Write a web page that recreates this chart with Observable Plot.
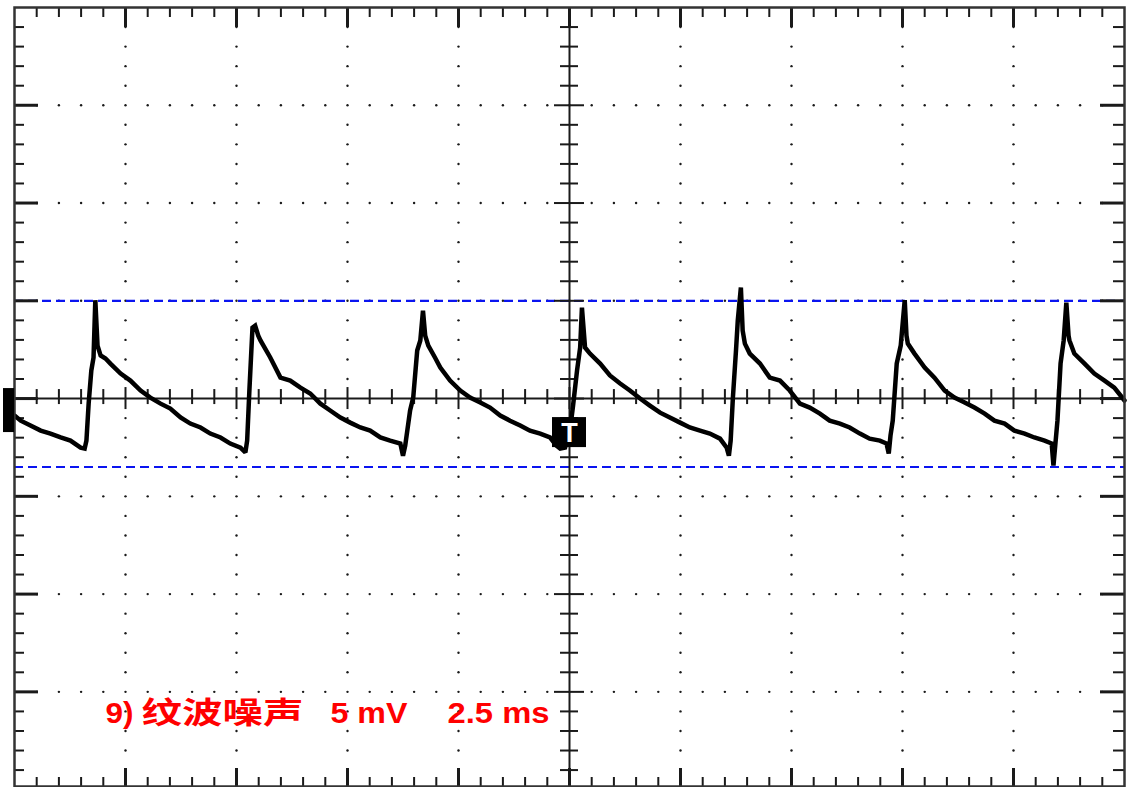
<!DOCTYPE html>
<html>
<head>
<meta charset="utf-8">
<script src="https://cdn.jsdelivr.net/npm/d3@7"></script>
<script src="https://cdn.jsdelivr.net/npm/@observablehq/plot@0.6"></script>
<style>
  html, body { margin: 0; padding: 0; background: #fff; }
  #chart svg { display: block; }
</style>
</head>
<body>
<div id="chart"></div>
<script>
// ---- Data read from the oscilloscope capture (time in ms, voltage in mV) ----
const timeMs = [
  0.00, 0.14, 0.36, 0.59, 0.81, 1.04, 1.26, 1.49, 1.58, 1.62, 1.67, 1.73, 1.78, 1.82, 1.87, 1.94, 2.05, 2.16, 2.39, 2.61,
  2.84, 3.06, 3.29, 3.51, 3.74, 3.96, 4.19, 4.41, 4.64, 4.86, 5.09, 5.20, 5.24, 5.29, 5.36, 5.42, 5.49, 5.54, 5.76, 5.99,
  6.21, 6.44, 6.66, 6.89, 7.11, 7.34, 7.56, 7.79, 8.01, 8.24, 8.46, 8.69, 8.75, 8.80, 8.91, 8.98, 9.07, 9.14, 9.20, 9.25,
  9.32, 9.47, 9.59, 9.81, 10.04, 10.26, 10.49, 10.71, 10.94, 11.16, 11.39, 11.61, 11.84, 12.06, 12.20, 12.29, 12.40, 12.51, 12.58, 12.67,
  12.74, 12.78, 12.85, 12.96, 13.19, 13.41, 13.64, 13.86, 14.09, 14.31, 14.54, 14.76, 14.99, 15.21, 15.44, 15.66, 15.89, 16.04, 16.09, 16.13,
  16.18, 16.25, 16.29, 16.36, 16.40, 16.45, 16.56, 16.79, 17.01, 17.24, 17.46, 17.69, 17.91, 18.14, 18.36, 18.59, 18.81, 19.04, 19.26, 19.49,
  19.64, 19.69, 19.73, 19.78, 19.87, 19.96, 20.05, 20.09, 20.12, 20.27, 20.50, 20.72, 20.95, 21.17, 21.40, 21.62, 21.85, 22.07, 22.30, 22.52,
  22.75, 22.97, 23.20, 23.36, 23.40, 23.45, 23.49, 23.56, 23.63, 23.69, 23.74, 23.76, 23.87, 24.10, 24.32, 24.55, 24.77, 25.00
];
const voltMv = [
  -0.87, -1.13, -1.38, -1.64, -1.79, -1.99, -2.15, -2.51, -2.56, -2.15, -0.26, 1.43, 2.10, 5.03, 2.71, 2.20, 2.05, 1.79, 1.28, 0.92,
  0.41, 0.05, -0.26, -0.51, -0.97, -1.28, -1.48, -1.79, -1.99, -2.30, -2.51, -2.76, -2.15, 0.41, 3.63, 3.73, 3.22, 2.97, 2.10, 1.07,
  0.92, 0.56, 0.26, -0.26, -0.61, -0.97, -1.23, -1.48, -1.64, -1.99, -2.15, -2.30, -2.92, -2.40, -0.61, 0.05, 2.46, 2.97, 4.50, 3.22,
  2.71, 2.10, 1.59, 0.92, 0.41, 0.05, -0.20, -0.46, -0.87, -1.13, -1.38, -1.64, -1.79, -1.99, -2.40, -2.56, -2.51, -1.64, -0.36, 1.43,
  2.61, 4.65, 2.61, 2.30, 1.79, 1.18, 0.77, 0.41, 0.00, -0.36, -0.72, -0.97, -1.23, -1.48, -1.64, -1.79, -2.05, -2.51, -2.92, -2.15,
  0.05, 2.46, 3.99, 5.68, 3.48, 2.81, 2.30, 1.79, 1.07, 0.92, 0.41, -0.26, -0.46, -0.77, -1.13, -1.28, -1.48, -1.79, -2.05, -2.15,
  -2.30, -2.81, -1.89, -1.13, 1.79, 2.71, 5.03, 3.22, 2.81, 2.30, 1.59, 1.07, 0.41, 0.05, -0.20, -0.46, -0.77, -1.13, -1.28, -1.64,
  -1.79, -1.99, -2.15, -2.30, -3.43, -2.15, -1.13, 1.79, 2.97, 4.91, 3.22, 2.97, 2.30, 1.79, 1.28, 0.92, 0.56, -0.10
];
const cursorLevelsMv = [5.0, -3.5];          // blue dashed cursors
const triggerTimeMs = [12.5];                // "T" marker
const triggerLevelMv = [-1.74];
const groundLevelMv = [0];                   // channel ground marker
const labelParts = ["9)", "纹波噪声", "5 mV", "2.5 ms"];
const timePerDivMs = 2.5;
const voltPerDivMv = 5;
const xDivisions = 10;

// ---- Layout ----
const W = 1127, H = 787;
const mL = 14, mR = 3, mT = 7, mB = 1;
const xMax = timePerDivMs * xDivisions;       // 25 ms
const yTop = 20, yBot = -19.84;
const pxPerMs = (W - mL - mR) / xMax;
const pxPerMv = (H - mT - mB) / (yTop - yBot);
const dxMs = px => px / pxPerMs;
const dyMv = px => px / pxPerMv;

const wave = timeMs.map((t, i) => ({t, v: voltMv[i]}));

// graticule subdivisions (5 minor per division)
const xMinor = d3.range(0, 51).map(i => ({x: +(i * timePerDivMs / 5).toFixed(3), major: i % 5 === 0}))
  .filter(d => d.x > 0 && d.x < xMax);
const yMinor = d3.range(-19, 20).map(i => ({y: i, major: i % voltPerDivMv === 0}));
const xMajorLines = d3.range(1, xDivisions).map(i => i * timePerDivMs).filter(x => x !== xMax / 2);
const yMajorLines = [-15, -10, -5, 5, 10, 15];

const gridDots = [];
for (const y of yMajorLines) for (const d of xMinor) gridDots.push({x: d.x, y});
for (const x of xMajorLines) for (const d of yMinor) if (d.y !== 0 && d.y % 5 !== 0) gridDots.push({x, y: d.y});

const ink = "#1a1a1a";
const xc = xMax / 2;
const labelOffsets = [91, 127, 316, 433];
const labelLengths = [28, 162, 77, 102];

const plot = Plot.plot({
  width: W, height: H,
  marginLeft: mL, marginRight: mR, marginTop: mT, marginBottom: mB,
  x: {domain: [0, xMax], axis: null},
  y: {domain: [yBot, yTop], axis: null},
  style: {background: "#fff", overflow: "visible"},
  marks: [
    Plot.dot(gridDots, {x: "x", y: "y", r: 1.2, fill: ink, stroke: null}),
    Plot.ruleY(cursorLevelsMv, {stroke: "#0a14f0", strokeWidth: 2.2, strokeDasharray: "9,5"}),
    // centre cross
    Plot.ruleY([0], {stroke: ink, strokeWidth: 2}),
    Plot.ruleX([xc], {stroke: ink, strokeWidth: 2}),
    Plot.ruleX(xMinor, {x: "x", y1: d => d.major ? dyMv(11) : dyMv(9), y2: d => d.major ? -dyMv(11) : -dyMv(6), stroke: ink, strokeWidth: 2}),
    Plot.ruleY(yMinor, {y: "y", x1: d => xc - dxMs(d.major ? 15 : 9), x2: d => xc + dxMs(d.major ? 15 : 9), stroke: ink, strokeWidth: 2}),
    // border ticks
    Plot.ruleX(xMinor, {x: "x", y1: yTop, y2: d => yTop - dyMv(d.major ? 20 : 10), stroke: ink, strokeWidth: d => d.major ? 3 : 2}),
    Plot.ruleX(xMinor, {x: "x", y1: yBot, y2: d => yBot + dyMv(d.major ? 18 : 9), stroke: ink, strokeWidth: d => d.major ? 3 : 2}),
    Plot.ruleY(yMinor, {y: "y", x1: 0, x2: d => dxMs(d.major ? 24 : 10), stroke: ink, strokeWidth: d => d.major ? 3 : 2}),
    Plot.ruleY(yMinor, {y: "y", x1: xMax, x2: d => xMax - dxMs(d.major ? 24 : 11), stroke: ink, strokeWidth: d => d.major ? 3 : 2}),
    // waveform
    Plot.line(wave, {x: "t", y: "v", stroke: "#000", strokeWidth: 4.5, strokeLinejoin: "miter", strokeMiterlimit: 2}),
    Plot.frame({stroke: "#333", strokeWidth: 2.5}),
    // ground marker on left edge
    Plot.rect(groundLevelMv, {x1: -dxMs(11), x2: 0, y1: d => d + dyMv(10), y2: d => d - dyMv(34), fill: "#000"}),
    // trigger marker
    Plot.rect(triggerTimeMs, {x1: d => d - dxMs(17), x2: d => d + dxMs(17), y1: triggerLevelMv[0] + dyMv(15), y2: triggerLevelMv[0] - dyMv(15), fill: "#000"}),
    Plot.text(triggerTimeMs, {x: d => d, y: triggerLevelMv[0], text: () => "T", fill: "#fff", fontSize: 27, fontWeight: "bold",
      fontFamily: "Liberation Sans, Arial, sans-serif", dy: 1}),
    // label
    ...labelParts.map((t, i) => Plot.text([t], {
      text: d => d, frameAnchor: "bottom-left", textAnchor: "start", lineAnchor: "bottom",
      dx: labelOffsets[i], dy: -64, fill: "#ff0000", fontSize: 30, fontWeight: "bold",
      fontFamily: "Liberation Sans, Arial, 'Noto Sans CJK SC', sans-serif"
    }))
  ]
});

d3.select(plot).selectAll("text").each(function() {
  const k = labelParts.indexOf(this.textContent);
  if (k >= 0) {
    this.setAttribute("textLength", labelLengths[k]);
    this.setAttribute("lengthAdjust", "spacingAndGlyphs");
  }
});
document.getElementById("chart").appendChild(plot);
</script>
</body>
</html>
